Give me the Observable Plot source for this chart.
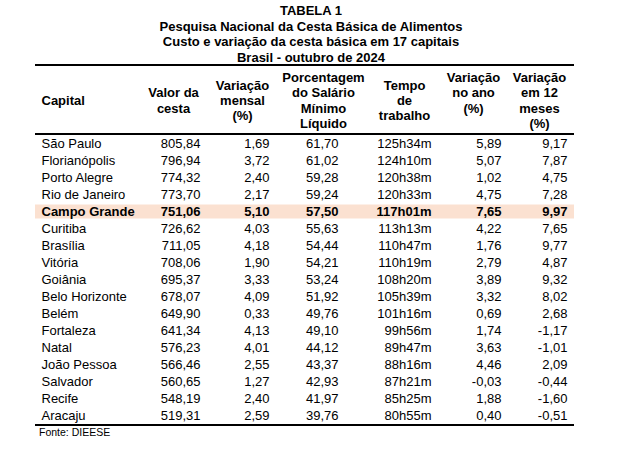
<!DOCTYPE html>
<html><head><meta charset="utf-8">
<script src="https://cdn.jsdelivr.net/npm/d3@7"></script>
<script src="https://cdn.jsdelivr.net/npm/@observablehq/plot@0.6"></script>
<style>
html,body{margin:0;padding:0;background:#fff}
body{font-family:"Liberation Sans",Arial,sans-serif;color:#000;width:622px;height:452px;overflow:hidden}
#title{padding-top:3px;height:61px;text-align:center;font-weight:bold;font-size:13px;line-height:15.5px;width:622px}
#table{margin-left:35px;width:539px}
#head{height:67px;border-top:2px solid #000;border-bottom:2px solid #000;overflow:hidden}
#body{height:289px;border-bottom:2px solid #000;overflow:hidden}
#head svg,#body svg{display:block}
#caption{margin-left:39px;font-size:10.5px;line-height:12px}
</style></head>
<body>
<div id="title"></div>
<div id="table"><div id="head"></div><div id="body"></div></div>
<div id="caption"></div>
<script>
// ---- data ----
const titleLines = ["TABELA 1", "Pesquisa Nacional da Cesta Básica de Alimentos", "Custo e variação da cesta básica em 17 capitais", "Brasil - outubro de 2024"];
const headers = ["Capital", "Valor da\ncesta", "Variação\nmensal\n(%)", "Porcentagem\ndo Salário\nMínimo\nLíquido", "Tempo\nde\ntrabalho", "Variação\nno ano\n(%)\n", "Variação\nem 12\nmeses\n(%)"];
const capitals = ["São Paulo", "Florianópolis", "Porto Alegre", "Rio de Janeiro", "Campo Grande", "Curitiba", "Brasília", "Vitória", "Goiânia", "Belo Horizonte", "Belém", "Fortaleza", "Natal", "João Pessoa", "Salvador", "Recife", "Aracaju"];
const valorCesta = [805.84, 796.94, 774.32, 773.70, 751.06, 726.62, 711.05, 708.06, 695.37, 678.07, 649.90, 641.34, 576.23, 566.46, 560.65, 548.19, 519.31];
const variacaoMensal = [1.69, 3.72, 2.40, 2.17, 5.10, 4.03, 4.18, 1.90, 3.33, 4.09, 0.33, 4.13, 4.01, 2.55, 1.27, 2.40, 2.59];
const pctSalario = [61.70, 61.02, 59.28, 59.24, 57.50, 55.63, 54.44, 54.21, 53.24, 51.92, 49.76, 49.10, 44.12, 43.37, 42.93, 41.97, 39.76];
const tempoTrabalho = ["125h34m", "124h10m", "120h38m", "120h33m", "117h01m", "113h13m", "110h47m", "110h19m", "108h20m", "105h39m", "101h16m", "99h56m", "89h47m", "88h16m", "87h21m", "85h25m", "80h55m"];
const variacaoAno = [5.89, 5.07, 1.02, 4.75, 7.65, 4.22, 1.76, 2.79, 3.89, 3.32, 0.69, 1.74, 3.63, 4.46, -0.03, 1.88, 0.40];
const variacao12m = [9.17, 7.87, 4.75, 7.28, 9.97, 7.65, 9.77, 4.87, 9.32, 8.02, 2.68, -1.17, -1.01, 2.09, -0.44, -1.60, -0.51];
const highlight = "Campo Grande";
const source = "Fonte: DIEESE";

// ---- layout (table-relative pixels) ----
const tableWidth = 539;
const headerX = [6, 138, 207, 288, 369, 438, 504];
const valueX = [6, 165, 234, 303, 396, 466, 532];
const fontFamily = "Liberation Sans, Arial, sans-serif";

const fmt = d3.formatLocale({decimal: ",", thousands: ".", grouping: [3], currency: ["R$", ""], minus: "-"}).format(".2f");
const columns = [capitals, valorCesta.map(fmt), variacaoMensal.map(fmt), pctSalario.map(fmt), tempoTrabalho, variacaoAno.map(fmt), variacao12m.map(fmt)];

document.getElementById("title").innerHTML = titleLines.map(t => `<div>${t}</div>`).join("");
document.getElementById("caption").textContent = source;

const xScale = {type: "linear", domain: [0, tableWidth], range: [0, tableWidth], axis: null};

// header
const headCells = headers.map((h, i) => ({h, x: headerX[i], i}));
const head = Plot.plot({
  width: tableWidth, height: 67, margin: 0,
  style: {fontFamily, background: "transparent"},
  x: xScale,
  marks: [
    Plot.text(headCells.filter(d => d.i === 0), {x: "x", text: "h", frameAnchor: "middle", textAnchor: "start", lineAnchor: "middle", fontWeight: "bold", fontSize: 13, lineHeight: 1.18, fill: "#000"}),
    Plot.text(headCells.filter(d => d.i > 0), {x: "x", text: "h", frameAnchor: "middle", textAnchor: "middle", lineAnchor: "middle", fontWeight: "bold", fontSize: 13, lineHeight: 1.18, fill: "#000"})
  ]
});
document.getElementById("head").append(head);

// body
const cells = [];
capitals.forEach((c, r) => columns.forEach((col, i) => cells.push({row: c, col: i, x: valueX[i], text: col[r]})));
const textMark = (filter, anchor, weight) => Plot.text(cells.filter(filter), {x: "x", y: "row", text: "text", textAnchor: anchor, fontWeight: weight, fontSize: 13, fill: "#000"});
const body = Plot.plot({
  width: tableWidth, height: 289, margin: 0,
  style: {fontFamily, background: "transparent"},
  x: xScale,
  y: {type: "band", domain: capitals, padding: 0, axis: null},
  marks: [
    Plot.cell([highlight], {y: d => d, fill: "#fbe1d1", insetTop: 1.5, insetBottom: 1.5}),
    textMark(d => d.col === 0 && d.row !== highlight, "start", "normal"),
    textMark(d => d.col > 0 && d.row !== highlight, "end", "normal"),
    textMark(d => d.col === 0 && d.row === highlight, "start", "bold"),
    textMark(d => d.col > 0 && d.row === highlight, "end", "bold")
  ]
});
document.getElementById("body").append(body);
</script>
</body></html>
